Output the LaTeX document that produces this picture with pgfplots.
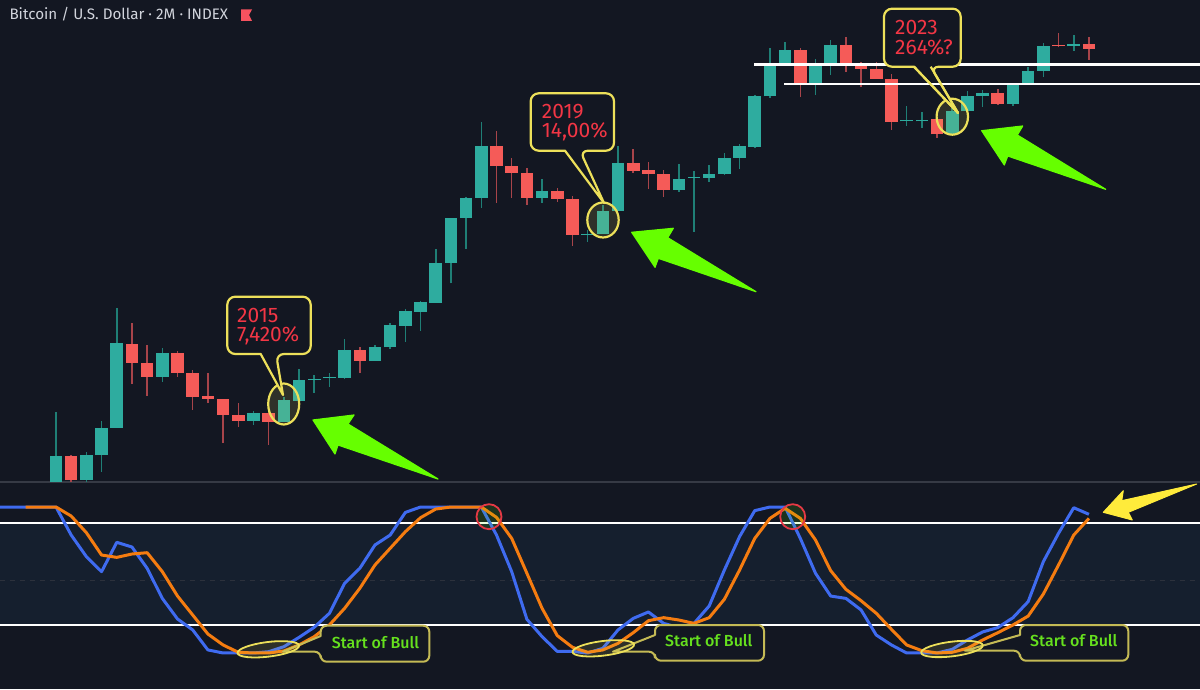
\documentclass[border=0pt]{standalone}
\usepackage{fontspec}
\setmainfont{Fira Sans}
\newfontfamily\medfont{Fira Sans}[BoldFont={Fira Sans Medium}]
\usepackage{pgfplots}
\usepackage{pgfplotstable}
\pgfplotsset{compat=1.18}
\usetikzlibrary{calc}
\definecolor{bgc}{HTML}{131722}
\definecolor{bandc}{HTML}{151F2E}
\definecolor{up}{HTML}{2EAC9F}
\definecolor{upw}{HTML}{1F7F76}
\definecolor{dn}{HTML}{F55B58}
\definecolor{dnw}{HTML}{A8444A}
\definecolor{blueL}{HTML}{3F6BF0}
\definecolor{orangeL}{HTML}{F57C10}
\definecolor{yel}{HTML}{EDE05A}
\definecolor{olive}{HTML}{C4BA55}
\definecolor{txtred}{HTML}{F23645}
\definecolor{grn}{HTML}{66FF00}
\definecolor{bulltxt}{HTML}{66E01E}
\definecolor{yarrow}{HTML}{FFEB3B}
\definecolor{titlec}{HTML}{D1D4DC}
\definecolor{ringred}{HTML}{E53945}
\definecolor{sep}{HTML}{363A45}
\definecolor{dashc}{HTML}{2C313C}
\definecolor{flagc}{HTML}{F7525F}

\pgfplotstableread{
i o h l c
0 0.3 70 0 26.3
2 2 30.3 0 27
3 27 61 10.3 54
4 54 174 54 139
7 105 134 100 129
13 61.3 71 57 69
15 60 85 60 82
16 81.3 113 78 102
17 102 107 89 103.3
18 104 109 95 105
19 104.3 143 103 132.3
21 121.3 137 121 135
22 134.7 159 133 157
23 156.3 173 140.3 171
24 170.3 181 151.3 179.7
25 179.3 232.7 179.3 219.3
26 219.3 264 198.7 264
27 264 285.3 233 284.3
28 284.3 360.3 274 336.3
32 284 303 279 291
35 247 252 240.3 248.3
36 248 277 248 271.3
37 271 336 271 319
41 292 318 290 303.3
42 304 311 250.3 305
43 304 317 300.3 308.3
44 308 329.3 307 324.3
45 324.3 338 313 335.7
46 335.3 387 334 386
47 385.7 434 384 417
48 416 440.3 416 432.3
50 399 423 387 417
51 417 442 407 437
56 360.7 376.3 356.3 361.7
57 360.7 370.3 354.3 362
59 347.7 374 347 371
60 370.7 391 370.7 386.3
61 386.3 392 375.3 389
63 378.3 398 376.3 398
64 397 415.3 397 411
65 411 439.3 405.3 436.3
67 435.7 447 431.3 438
}\upcandles

\pgfplotstableread{
i o h l c
1 26.3 27 0 2
5 138.3 159 98 119
6 119 137 86 105
8 129.3 131 105 109.3
9 109.3 112 72 85.3
10 86 109 79 83
11 83 83 39 67
12 67 79 55 61.3
14 69 81 37 60
20 132 135 109 121.3
29 336.3 351 279 316
30 316.3 324.3 284.3 309
31 309.3 314 277 284
33 291 294 280.3 283
34 283.3 286 236 247
38 319 333 309 311.3
39 311.7 320.3 293 308
40 308.3 312 285 292
49 432.3 434.3 385.3 399
52 437 445 410.3 417
53 417 420 395.3 413
54 413 420 403 403
55 403.3 408 352 360.3
58 362.7 362.7 344 347.7
62 389.3 393 377 378.3
66 437 449 434.7 435.7
68 438 445.3 422 433.3
}\downcandles

\pgfplotstableread{
i k
-4 100
-3 100
-2 100
-1 100
0 100
1 80.8
2 66.0
3 55.7
4 75.8
5 72.6
6 58.0
7 37.4
8 23.3
9 15.8
10 2.1
11 0
12 0
13 0
14 0.9
15 4.3
16 10.7
17 17.6
18 27.2
19 47.7
20 58.0
21 74.0
22 80.8
23 96.3
24 100
25 100
26 100
27 100
28 100
29 80.8
30 55.7
31 23.1
32 11.2
33 1.1
34 1.1
35 0
36 3.2
37 15.8
38 23.7
39 28.1
40 20.3
41 17.4
42 20.3
43 32.2
44 56.8
45 79.7
46 97.5
47 100
48 100
49 78.5
50 54.6
51 39.0
52 37.4
53 29.5
54 12.3
55 5.5
56 0
57 0
58 0
59 2.5
60 8.9
61 14.4
62 17.4
63 24.2
64 35.2
65 62.6
66 82.0
67 99.5
68 95.0
}\kline

\pgfplotstableread{
i d
-2 100
-1 100
0 100
1 93.8
2 82.4
3 67.1
4 65.5
5 67.8
6 68.7
7 55.7
8 39.0
9 26.0
10 13.0
11 5.5
12 0.5
13 0
14 0
15 1.4
16 5.5
17 11.2
18 19.2
19 30.6
20 44.3
21 60.3
22 71.7
23 83.1
24 92.7
25 98.6
26 100
27 100
28 100
29 92.9
30 78.5
31 54.6
32 30.6
33 11.9
34 3.9
35 0.5
36 2.1
37 6.6
38 13.9
39 22.1
40 24.2
41 22.6
42 20.3
43 24.2
44 36.8
45 56.8
46 78.5
47 92.2
48 99.1
49 92.2
50 77.4
51 56.4
52 43.6
53 35.8
54 27.2
55 16.2
56 5.5
57 1.6
58 0
59 0.5
60 3.2
61 8.9
62 13.9
63 19.2
64 25.3
65 40.4
66 60.3
67 80.8
68 92.2
}\dline

\newcommand{\candleset}[3]{%
  \addplot[draw=none,no marks,forget plot,
    error bars/.cd,y dir=plus,y explicit,error mark=none,
    error bar style={draw=#3,line width=1.5pt,solid}]
    table[x=i,y=l,y error expr={\thisrow{h}-\thisrow{l}}] {#1};
  \addplot[draw=none,no marks,forget plot,
    error bars/.cd,y dir=plus,y explicit,error mark=none,
    error bar style={draw=#2,line width=12.6pt,solid}]
    table[x=i,y expr={min(\thisrow{o},\thisrow{c})},y error expr={abs(\thisrow{c}-\thisrow{o})}] {#1};
}

% \callout{x0}{y0}{x1}{y1}{base left}{base right}{tipx}{tipy}
\newcommand{\callout}[8]{%
  \fill[bgc,rounded corners=8pt] (#1,#2) rectangle (#3,#4);
  \fill[bgc] (#5,#4) -- (#7,#8) -- (#6,#4) -- cycle;
  \draw[yel,line width=2.2pt,line join=round] (#5,#4) [rounded corners=8pt] -- (#1,#4) -- (#1,#2) -- (#3,#2) -- (#3,#4) -- (#6,#4) [sharp corners] -- (#7,#8) -- cycle;
}
% \bull{x0}{y0}{x1}{y1}{notch top}{notch bottom}{tipx}
\newcommand{\bull}[7]{%
  \fill[bgc,rounded corners=8pt] (#1,#2) rectangle (#3,#4);
  \draw[olive,line width=2pt,line join=round] (#1,#5) [rounded corners=6pt] -- (#1,#2) -- (#3,#2) -- (#3,#4) -- (#1,#4) -- (#1,#6) [sharp corners] -- (#7,#6) -- cycle;
}
\newcommand{\redtext}[4]{%
  \node[anchor=base west,inner sep=0pt,text=txtred,font=\fontsize{21}{25}\selectfont] at (#1,#2) {#3};
  \node[anchor=base west,inner sep=0pt,text=txtred,font=\fontsize{21}{25}\selectfont] at (#1,#2+19.2) {#4};
}
\newcommand{\bulltext}[2]{%
  \node[anchor=base west,inner sep=0pt,text=bulltxt,font=\medfont\bfseries\fontsize{16}{18}\selectfont] at (#1,#2) {Start of Bull};
}

\begin{document}
\begin{tikzpicture}[x=1pt,y=1pt]
\path[use as bounding box] (0,0) rectangle (1200,689);
\fill[bgc] (0,0) rectangle (1200,689);

% lower pane
\begin{axis}[at={(0pt,0pt)},anchor=south west,scale only axis,width=1200pt,height=206pt,
  hide axis,xmin=-3.6866,xmax=75.31,ymin=-24.66,ymax=116.44,clip=true]
  \addplot[draw=none,fill=bandc,forget plot] coordinates {(-3.6866,19.2)(75.31,19.2)(75.31,89)(-3.6866,89)} \closedcycle;
  \addplot[dashc,line width=1pt,dash pattern=on 5pt off 5pt,forget plot] coordinates {(-3.6866,50)(75.31,50)};
  \addplot[white,line width=2.8pt,forget plot] coordinates {(-3.6866,89)(75.31,89)};
  \addplot[white,line width=2.8pt,forget plot] coordinates {(-3.6866,19.2)(75.31,19.2)};
  \addplot[blueL,line width=3pt,line join=round,forget plot] table[x=i,y=k] {\kline};
  \addplot[orangeL,line width=3pt,line join=round,forget plot] table[x=i,y=d] {\dline};
\end{axis}

\draw[sep,line width=1.8pt] (0,207) -- (1200,207);

% upper pane
\begin{axis}[at={(0pt,207pt)},anchor=south west,scale only axis,width=1200pt,height=482pt,
  hide axis,xmin=-3.6866,xmax=75.31,ymin=0,ymax=482,clip=true]
  \candleset{\upcandles}{up}{upw}
  \candleset{\downcandles}{dn}{dnw}
\end{axis}

% annotations, in picture pixels from the top left
\begin{scope}[x=1pt,y=-1pt,shift={(0pt,689pt)}]
  \node[anchor=base west,inner sep=0pt,text=titlec,font=\fontsize{15.2}{18}\selectfont] at (9.3,20) {Bitcoin / U.S. Dollar · 2M · INDEX};
  \fill[flagc] (241,9.5) -- (252,9.5) -- (249,15) -- (252,21) -- (241,21) -- cycle;

  \draw[white,line width=2.8pt] (754,64.5) -- (1200,64.5);

  % circles
  \draw[yel,line width=2.2pt,fill=yel,fill opacity=.13] (283.7,404) ellipse (15.5 and 20.5);
  \draw[yel,line width=2.2pt,fill=yel,fill opacity=.13] (603,220) ellipse (15.7 and 17.5);
  \draw[yel,line width=2.2pt,fill=yel,fill opacity=.13] (952.3,116.7) ellipse (15.7 and 18);

  % price callouts
  \callout{227.3}{296.7}{310.7}{354}{260.7}{276}{283}{395}
  \redtext{237}{322.7}{2015}{7,420\%}
  \callout{530.7}{93.3}{614}{150.7}{565}{580}{604}{203}
  \redtext{541.7}{118.3}{2019}{14,00\%}
  \callout{884}{8.7}{960.7}{66.7}{914}{930.7}{958}{113}
  \redtext{895}{35}{2023}{264\%?}
  \draw[white,line width=2.8pt] (784,84) -- (1200,84);
  \draw[yel,line width=2.2pt,line join=round] (914,66.7) -- (958,113) -- (930.7,66.7);

  % arrows
  \filldraw[grn,line width=1.2pt,line join=round] (313,420) -- (354,415) -- (348,424) -- (438,479) -- (338,445) -- (335,454) -- cycle;
  \filldraw[grn,line width=1.2pt,line join=round] (631.7,232.3) -- (673.3,228.3) -- (667.7,237.7) -- (756,291.7) -- (658.3,258.3) -- (655,267.3) -- cycle;
  \filldraw[grn,line width=1.2pt,line join=round] (981.7,130.7) -- (1022.7,126) -- (1017.3,135) -- (1105.7,189.3) -- (1007.7,156) -- (1004.3,165) -- cycle;
  \filldraw[yarrow,line width=1pt,line join=round] (1103.3,512.3) -- (1123.3,490.7) -- (1121.7,500.7) -- (1196.7,484) -- (1128.3,512.3) -- (1132.3,520) -- cycle;

  % start of bull callouts
  \bull{320.7}{625.7}{429.3}{661.7}{636}{651.7}{283}
  \bulltext{331.7}{648.3}
  \bull{655}{625}{764}{660.7}{635}{651.7}{613}
  \bulltext{665}{646.7}
  \bull{1020}{625}{1128.3}{660.7}{635}{650.7}{965}
  \bulltext{1030}{646.7}

  % stochastic ellipses and rings
  \draw[yel,line width=1.8pt,fill=yel,fill opacity=.12,shift={(268.3,649.3)},rotate=7] (0,0) ellipse (31 and 7.3);
  \draw[yel,line width=1.8pt,fill=yel,fill opacity=.12,shift={(603.3,648.3)},rotate=7] (0,0) ellipse (31 and 7.3);
  \draw[yel,line width=1.8pt,fill=yel,fill opacity=.12,shift={(952,649)},rotate=7] (0,0) ellipse (31 and 7.3);
  \draw[ringred,line width=1.8pt,fill=grn,fill opacity=.12] (489,516.7) circle (12.5);
  \draw[ringred,line width=1.8pt,fill=grn,fill opacity=.12] (792.7,516.7) circle (12.5);
\end{scope}
\end{tikzpicture}
\end{document}
